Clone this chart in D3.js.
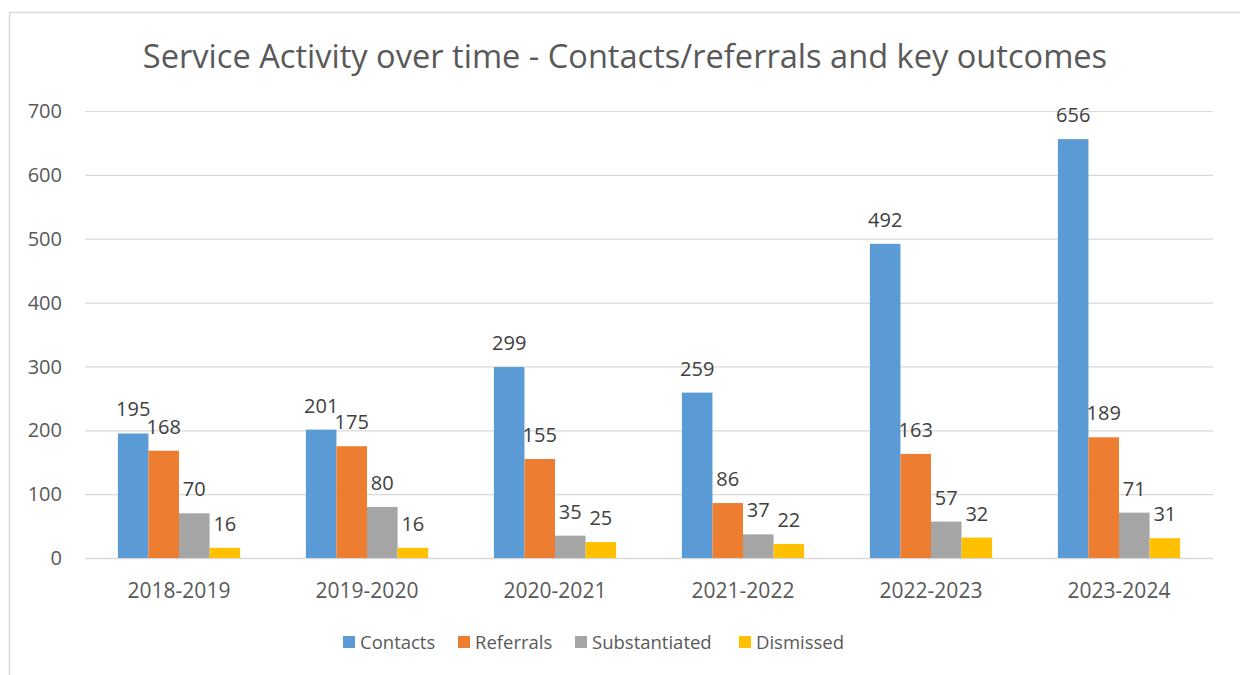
<!DOCTYPE html>
<html>
<head>
<meta charset="utf-8">
<script src="https://cdn.jsdelivr.net/npm/d3@7"></script>
<style>
  body { margin: 0; background: #fff; }
  svg { display: block; font-family: "Open Sans", sans-serif; }
</style>
</head>
<body>
<svg width="1240" height="675"></svg>
<script>
var years = ["2018-2019", "2019-2020", "2020-2021", "2021-2022", "2022-2023", "2023-2024"];
var seriesNames = ["Contacts", "Referrals", "Substantiated", "Dismissed"];
var contacts = [195, 201, 299, 259, 492, 656];
var referrals = [168, 175, 155, 86, 163, 189];
var substantiated = [70, 80, 35, 37, 57, 71];
var dismissed = [16, 16, 25, 22, 32, 31];
var yTicks = [0, 100, 200, 300, 400, 500, 600, 700];
var colors = ["#5B9BD5", "#ED7D31", "#A5A5A5", "#FFC000"];

var seriesValues = [contacts, referrals, substantiated, dismissed];

var svg = d3.select("svg"),
    width = +svg.attr("width"),
    height = +svg.attr("height");

var margin = {left: 85, right: 27, top: 111, bottom: 117};

// chart frame
svg.append("path")
    .attr("d", "M9.5," + height + "V12.5H" + width)
    .attr("fill", "none")
    .attr("stroke", "#D9D9D9")
    .attr("stroke-width", 1.5);

var x0 = d3.scaleBand()
    .domain(years)
    .range([margin.left, width - margin.right])
    .paddingInner(0.35)
    .paddingOuter(0.175);

var x1 = d3.scaleBand()
    .domain(seriesNames)
    .range([0, x0.bandwidth()]);

var y = d3.scaleLinear()
    .domain([0, 700])
    .range([height - margin.bottom, margin.top]);

// gridlines
svg.append("g")
    .selectAll("line")
    .data(yTicks)
    .enter().append("line")
    .attr("x1", margin.left)
    .attr("x2", width - margin.right)
    .attr("y1", function(d) { return y(d) + 0.5; })
    .attr("y2", function(d) { return y(d) + 0.5; })
    .attr("stroke", "#D9D9D9")
    .attr("stroke-width", function(d) { return d === 0 ? 1.5 : 1.2; });

// y axis labels
svg.append("g")
    .selectAll("text")
    .data(yTicks)
    .enter().append("text")
    .attr("x", 62)
    .attr("y", function(d) { return y(d); })
    .attr("dy", "0.36em")
    .attr("text-anchor", "end")
    .style("font-size", "20px")
    .style("fill", "#595959")
    .text(function(d) { return d; });

// x axis labels
svg.append("g")
    .selectAll("text")
    .data(years)
    .enter().append("text")
    .attr("x", function(d) { return x0(d) + x0.bandwidth() / 2; })
    .attr("y", 598)
    .attr("text-anchor", "middle")
    .style("font-size", "21px")
    .style("fill", "#595959")
    .text(function(d) { return d; });

// bars
var groups = svg.append("g")
    .selectAll("g")
    .data(years)
    .enter().append("g")
    .attr("transform", function(d) { return "translate(" + x0(d) + ",0)"; });

groups.selectAll("rect")
    .data(function(d, i) {
      return seriesNames.map(function(s, j) { return {series: s, value: seriesValues[j][i], color: colors[j]}; });
    })
    .enter().append("rect")
    .attr("x", function(d) { return x1(d.series); })
    .attr("width", x1.bandwidth())
    .attr("y", function(d) { return y(d.value); })
    .attr("height", function(d) { return y(0) - y(d.value); })
    .attr("fill", function(d) { return d.color; });

groups.selectAll("text")
    .data(function(d, i) {
      return seriesNames.map(function(s, j) { return {series: s, value: seriesValues[j][i]}; });
    })
    .enter().append("text")
    .attr("x", function(d) { return x1(d.series) + x1.bandwidth() / 2; })
    .attr("y", function(d) { return y(d.value) - 17; })
    .attr("text-anchor", "middle")
    .style("font-size", "20px")
    .style("fill", "#404040")
    .text(function(d) { return d.value; });

// title
svg.append("text")
    .attr("x", 625)
    .attr("y", 68)
    .attr("text-anchor", "middle")
    .style("font-size", "32.6px")
    .style("fill", "#595959")
    .text("Service Activity over time - Contacts/referrals and key outcomes");

// legend
var legendX = [343, 458, 575, 739];
var legend = svg.append("g")
    .selectAll("g")
    .data(seriesNames)
    .enter().append("g")
    .attr("transform", function(d, i) { return "translate(" + legendX[i] + ",636)"; });

legend.append("rect")
    .attr("width", 12)
    .attr("height", 12)
    .attr("fill", function(d, i) { return colors[i]; });

legend.append("text")
    .attr("x", 17)
    .attr("y", 13)
    .style("font-size", "18.5px")
    .style("fill", "#595959")
    .text(function(d) { return d; });
</script>
</body>
</html>
